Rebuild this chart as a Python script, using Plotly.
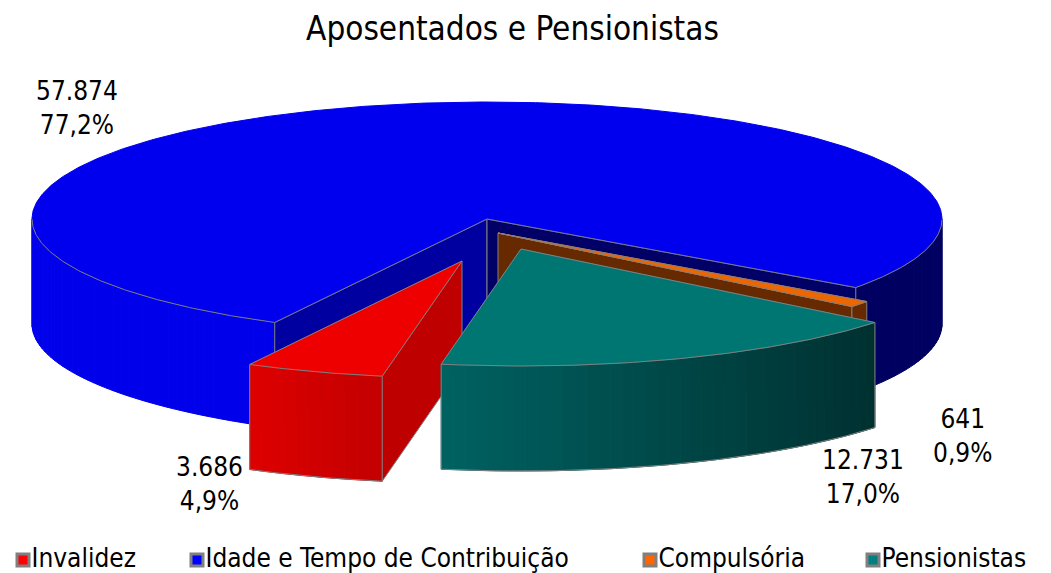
import numpy as np
import plotly.graph_objects as go

# --- data ---
CATEGORIES = ["Invalidez", "Idade e Tempo de Contribuição", "Compulsória", "Pensionistas"]
VALUES = [3686, 57874, 641, 12731]
BASE_COLORS = [(255, 0, 0), (0, 0, 255), (255, 102, 0), (0, 128, 128)]
TITLE = "Aposentados e Pensionistas"

# --- pie projection (pixels) ---
CX, CY, RX, RY, DEPTH = 487, 219, 455, 117, 105
START = 100.1
EXPLODE = [(-25, 42), (0, 0), (11, 14), (34, 30)]
LABEL_POS = [(209, 484), (77, 108), (962, 436), (863, 477)]
LEGEND_X = [23, 197, 650, 873]
LEGEND_Y = 560
FONT = "DejaVu Sans Condensed"
EDGE = "#808080"

total = sum(VALUES)
sweeps = [v / total * 360 for v in VALUES]
a_inv = START
a_ida = a_inv + sweeps[0]
a_com = a_ida + sweeps[1]
a_pen = a_com + sweeps[2]
b_inv, b_ida, b_com, b_pen = a_ida, a_com, a_pen, a_pen + sweeps[3]


def pt(t, off=(0, 0), dz=0):
    r = np.radians(t)
    return CX + RX * np.cos(r) + off[0], CY + RY * np.sin(r) + off[1] + dz


def shade(t):
    c = np.cos(np.radians(t))
    return float(np.interp(c, [-1, -0.47, -0.17, 0.35, 0.8, 1], [0.95, 0.87, 0.76, 0.55, 0.37, 0.37]))


def blue_shade(t):
    return 0.92 if np.cos(np.radians(t)) < 0 else 0.38


def rgb(base, f):
    return "rgb(%d,%d,%d)" % tuple(round(b * f) for b in base)


fig = go.Figure()


def poly(xs, ys, fill, line=None, width=1):
    fig.add_trace(go.Scatter(
        x=list(xs) + [xs[0]], y=list(ys) + [ys[0]], mode="lines", fill="toself",
        fillcolor=fill, line=dict(color=line or fill, width=width),
        hoverinfo="skip", showlegend=False))


def outline(xs, ys):
    fig.add_trace(go.Scatter(x=list(xs), y=list(ys), mode="lines",
                             line=dict(color=EDGE, width=1), hoverinfo="skip", showlegend=False))


def wall(t, off, base, f):
    x0, y0 = CX + off[0], CY + off[1]
    x1, y1 = pt(t, off)
    poly([x0, x1, x1, x0], [y0, y1, y1 + DEPTH, y0 + DEPTH], rgb(base, f), EDGE)


def side(a, b, off, base, shader=shade, edge_bottom=True):
    """front-facing outer rim between angles a..b, in shaded bands"""
    n = max(2, int((b - a) / 1.5))
    ts = np.linspace(a, b, n + 1)
    for t0, t1 in zip(ts[:-1], ts[1:]):
        x0, y0 = pt(t0, off)
        x1, y1 = pt(t1, off)
        poly([x0, x1, x1, x0], [y0, y1, y1 + DEPTH, y0 + DEPTH], rgb(base, shader((t0 + t1) / 2)))
    arc = np.linspace(a, b, n * 2 + 1)
    xs, ys = zip(*[pt(t, off) for t in arc])
    if edge_bottom:
        outline(xs, [y + DEPTH for y in ys])
        for t in (a, b):
            x, y = pt(t, off)
            outline([x, x], [y, y + DEPTH])


def top(a, b, off, color):
    arc = np.linspace(a, b, max(3, int((b - a) * 2)))
    xs, ys = zip(*[pt(t, off) for t in arc])
    apex = (CX + off[0], CY + off[1])
    poly([apex[0]] + list(xs), [apex[1]] + list(ys), color)
    # grey edges: two radii and the front of the rim only
    outline([xs[0], apex[0], xs[-1]], [ys[0], apex[1], ys[-1]])
    front = [(x, y) for t, x, y in zip(arc, xs, ys) if np.sin(np.radians(t)) >= 0]
    # split at wrap-around so that the two front pieces stay separate
    left = [p for t, p in zip(arc, zip(xs, ys)) if np.sin(np.radians(t)) >= 0 and t < 180]
    right = [p for t, p in zip(arc, zip(xs, ys)) if np.sin(np.radians(t)) >= 0 and t >= 180]
    for piece in (left, right):
        if len(piece) > 1:
            outline(*zip(*piece))


# Idade (blue)
base = BASE_COLORS[1]
side(a_ida, 180, EXPLODE[1], base, blue_shade, edge_bottom=False)
side(0, b_ida - 360, EXPLODE[1], base, blue_shade, edge_bottom=False)
wall(a_ida, EXPLODE[1], base, 0.63)
wall(b_ida, EXPLODE[1], base, 0.40)
top(a_ida, b_ida, EXPLODE[1], "#0000EE")

# Compulsoria (orange)
base = BASE_COLORS[2]
wall(b_com, EXPLODE[2], base, 0.40)
x0, y0 = pt(a_com, EXPLODE[2])
x1, y1 = pt(b_com, EXPLODE[2])
poly([x0, x1, x1, x0], [y0, y1, y1 + DEPTH, y0 + DEPTH], rgb(base, 0.40), EDGE)
top(a_com, b_com, EXPLODE[2], "#EE6600")

# Invalidez (red)
base = BASE_COLORS[0]
wall(a_inv, EXPLODE[0], base, 0.75)
side(a_inv, b_inv, EXPLODE[0], base)
top(a_inv, b_inv, EXPLODE[0], "#EE0000")

# Pensionistas (teal)
base = BASE_COLORS[3]
side(a_pen - 360, b_pen - 360, EXPLODE[3], base)
top(a_pen, b_pen, EXPLODE[3], "#007672")

# data labels
annotations = []
for v, (lx, ly) in zip(VALUES, LABEL_POS):
    val = f"{v:,}".replace(",", ".")
    pct = f"{v / total * 100:.1f}".replace(".", ",")
    annotations.append(dict(x=lx, y=ly, xref="x", yref="y", text=f"{val}<br>{pct}%", showarrow=False,
                            font=dict(family=FONT, size=26, color="#000000"), align="center"))

# legend
for name, col, lx in zip(CATEGORIES, BASE_COLORS, LEGEND_X):
    fig.add_trace(go.Scatter(
        x=[lx], y=[LEGEND_Y], mode="markers+text", text=[name], textposition="middle right",
        textfont=dict(family=FONT, size=26, color="#000000"),
        marker=dict(symbol="square", size=12, color="rgb(%d,%d,%d)" % col, line=dict(color="#808080", width=3)),
        hoverinfo="skip", showlegend=False))

fig.update_layout(
    width=1051, height=573, margin=dict(l=0, r=0, t=0, b=0), paper_bgcolor="white", plot_bgcolor="white",
    title=dict(text=TITLE, x=512.5 / 1051, xanchor="center", y=1 - 28 / 573, yanchor="middle",
               font=dict(family=FONT, size=33, color="#000000")),
    xaxis=dict(range=[0, 1051], visible=False, fixedrange=True),
    yaxis=dict(range=[573, 0], visible=False, fixedrange=True),
    annotations=annotations, showlegend=False,
)
fig.write_html("out.html", config=dict(displayModeBar=False),
               post_script="document.body.style.margin='0';document.body.style.overflow='hidden';")
